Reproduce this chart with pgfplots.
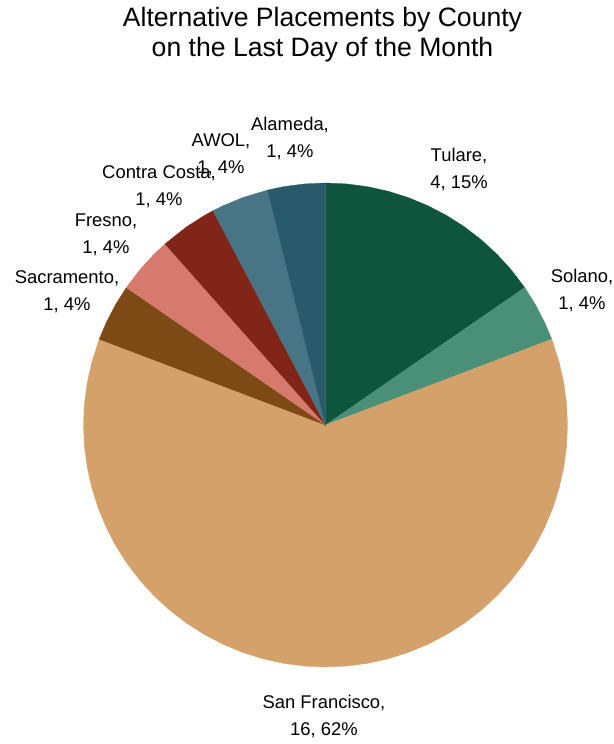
\documentclass[border=0pt]{standalone}
\usepackage{fontspec}
\setmainfont{Liberation Sans}
\usepackage{pgfplots}
\pgfplotsset{compat=1.18}
\usepgfplotslibrary{polar}
\usetikzlibrary{calc}
\definecolor{cTul}{HTML}{0F553E}
\definecolor{cSol}{HTML}{4A8F77}
\definecolor{cSF}{HTML}{D4A16A}
\definecolor{cSac}{HTML}{7D4A16}
\definecolor{cFre}{HTML}{D57A6C}
\definecolor{cCC}{HTML}{802518}
\definecolor{cAW}{HTML}{487585}
\definecolor{cAla}{HTML}{285A6C}
% Counts: Tulare 4, Solano 1, San Francisco 16, Sacramento 1, Fresno 1,
% Contra Costa 1, AWOL 1, Alameda 1 (total 26; one unit = 360/26 degrees)
\begin{document}
\begin{tikzpicture}
\begin{polaraxis}[hide axis, ymin=0, ymax=1, scale only axis, width=484pt, height=484pt, clip=false]
\coordinate (O) at (axis cs:0,0);
% Tulare 4
\addplot[fill=cTul, draw=cTul, line width=0.3pt] coordinates {(0,0) (90,1) (85,1) (80,1) (75,1) (70,1) (65,1) (60,1) (55,1) (50,1) (45,1) (40,1) (34.6154,1)} -- cycle;
% Solano 1
\addplot[fill=cSol, draw=cSol, line width=0.3pt] coordinates {(0,0) (34.6154,1) (30,1) (25,1) (20.7692,1)} -- cycle;
% San Francisco 16
\addplot[fill=cSF, draw=cSF, line width=0.3pt] coordinates {(0,0) (20.7692,1) (15,1) (10,1) (5,1) (0,1) (-5,1) (-10,1) (-15,1) (-20,1) (-25,1) (-30,1) (-35,1) (-40,1) (-45,1) (-50,1) (-55,1) (-60,1) (-65,1) (-70,1) (-75,1) (-80,1) (-85,1) (-90,1) (-95,1) (-100,1) (-105,1) (-110,1) (-115,1) (-120,1) (-125,1) (-130,1) (-135,1) (-140,1) (-145,1) (-150,1) (-155,1) (-160,1) (-165,1) (-170,1) (-175,1) (-180,1) (-185,1) (-190,1) (-195,1) (-200.7692,1)} -- cycle;
% Sacramento 1
\addplot[fill=cSac, draw=cSac, line width=0.3pt] coordinates {(0,0) (-200.7692,1) (-205,1) (-210,1) (-214.6154,1)} -- cycle;
% Fresno 1
\addplot[fill=cFre, draw=cFre, line width=0.3pt] coordinates {(0,0) (-214.6154,1) (-220,1) (-225,1) (-228.4615,1)} -- cycle;
% Contra Costa 1
\addplot[fill=cCC, draw=cCC, line width=0.3pt] coordinates {(0,0) (-228.4615,1) (-235,1) (-240,1) (-242.3077,1)} -- cycle;
% AWOL 1
\addplot[fill=cAW, draw=cAW, line width=0.3pt] coordinates {(0,0) (-242.3077,1) (-245,1) (-250,1) (-256.1538,1)} -- cycle;
% Alameda 1
\addplot[fill=cAla, draw=cAla, line width=0.3pt] coordinates {(0,0) (-256.1538,1) (-260,1) (-265,1) (-270,1)} -- cycle;
\end{polaraxis}
\pgfresetboundingbox
\path[use as bounding box] ($(O)+(-325.5pt,-319pt)$) rectangle ($(O)+(287.5pt,425pt)$);
\tikzset{lab/.style={align=center, inner sep=0pt, font=\fontsize{18.4}{27}\selectfont}}
\node[align=center, inner sep=0pt, font=\fontsize{26.6}{29.5}\selectfont] at ($(O)+(-3pt,390.5pt)$) {Alternative Placements by County\\on the Last Day of the Month};
\node[lab] at ($(O)+(133.5pt,255.5pt)$) {Tulare,\\4, 15\%};
\node[lab] at ($(O)+(256.5pt,134pt)$) {Solano,\\1, 4\%};
\node[lab] at ($(O)+(-1.5pt,-292pt)$) {San Francisco,\\16, 62\%};
\node[lab] at ($(O)+(-258.5pt,133.5pt)$) {Sacramento,\\1, 4\%};
\node[lab] at ($(O)+(-219.5pt,190pt)$) {Fresno,\\1, 4\%};
\node[lab] at ($(O)+(-166.5pt,238pt)$) {Contra Costa,\\1, 4\%};
\node[lab] at ($(O)+(-104.5pt,270pt)$) {AWOL,\\1, 4\%};
\node[lab] at ($(O)+(-35.5pt,286.5pt)$) {Alameda,\\1, 4\%};
\end{tikzpicture}
\end{document}
